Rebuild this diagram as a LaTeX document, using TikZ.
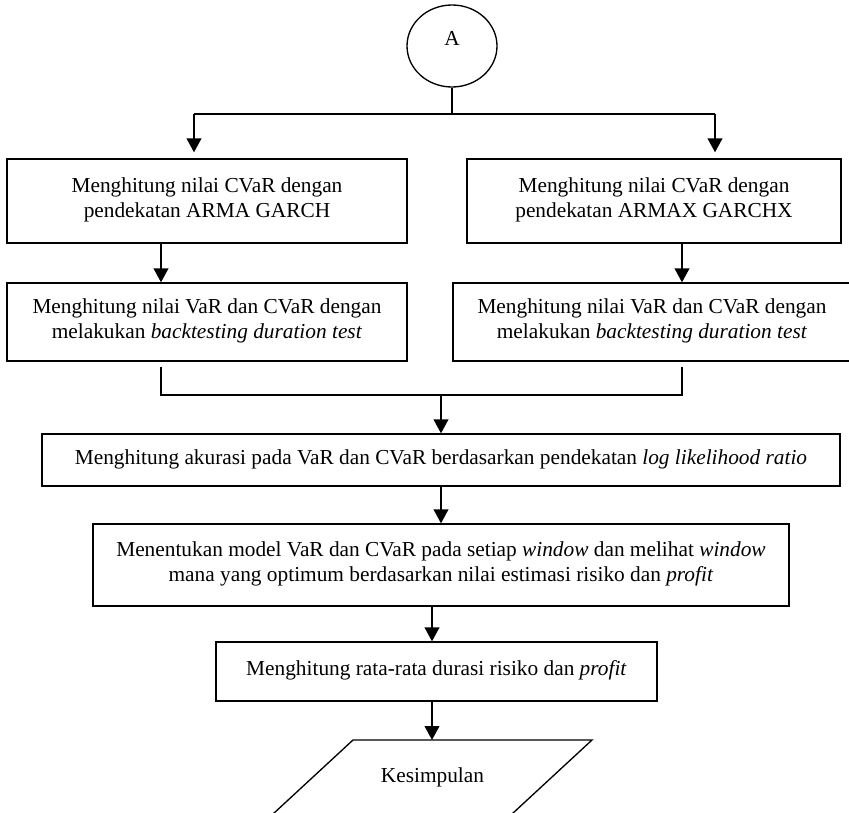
\documentclass[tikz,border=0pt]{standalone}
\usepackage{fontspec}
\setmainfont{Liberation Serif}
\usetikzlibrary{arrows.meta,shapes,positioning}

\begin{document}
\begin{tikzpicture}
[x=0.75pt, y=-0.75pt,
font=\fontsize{16}{18.4}\selectfont,
connector/.style={draw, ellipse, line width=1pt, text depth=12pt,
minimum width=67.5pt, minimum height=61.5pt, inner sep=0pt},
block/.style ={draw, rectangle, line width=1pt, align=center, inner sep=0pt},
line/.style ={draw, line width=1pt},
arrow/.style ={draw, line width=1.5pt, -{Triangle[length=10.5pt,width=11pt]}}]
\clip (0,0) rectangle (849,813);
% nodes
\node [connector]                                      (a)      at (452,46)    {A};
\node [block, minimum width=300pt, minimum height=63pt]   (cvar)   at (207,201)   {Menghitung nilai CVaR dengan\\pendekatan ARMA GARCH\\[-13.5pt]\mbox{}};
\node [block, minimum width=280.5pt, minimum height=63pt] (cvarx)  at (654,201)   {Menghitung nilai CVaR dengan\\pendekatan ARMAX GARCHX\\[-13.5pt]\mbox{}};
\node [block, minimum width=300pt, minimum height=58.5pt] (bt)     at (207,322)   {Menghitung nilai VaR dan CVaR dengan\\melakukan \textit{backtesting duration test}\\[-13.5pt]\mbox{}};
\node [block, minimum width=298.5pt, minimum height=58.5pt] (btx)  at (652,322)   {Menghitung nilai VaR dan CVaR dengan\\melakukan \textit{backtesting duration test}\\[-13.5pt]\mbox{}};
\node [block, minimum width=598.5pt, minimum height=39pt] (llr)    at (441,460)   {Menghitung akurasi pada VaR dan CVaR berdasarkan pendekatan \textit{log likelihood ratio}\\[-13.5pt]\mbox{}};
\node [block, minimum width=522pt, minimum height=61.5pt] (win)    at (441,565)   {Menentukan model VaR dan CVaR pada setiap \textit{window} dan melihat \textit{window}\\mana yang optimum berdasarkan nilai estimasi risiko dan \textit{profit}\\[-13.5pt]\mbox{}};
\node [block, minimum width=330.75pt, minimum height=44.25pt] (avg) at (436.5,671.5) {Menghitung rata-rata durasi risiko dan \textit{profit}\\[-13.5pt]\mbox{}};
\node                                                   (kes)    at (432.5,777) {Kesimpulan};
% data box round the last node
\draw [line] (353,740) -- (592,740) -- (512,814) -- (273,814) -- cycle;

% junctions
\coordinate (ja) at (452,114);
\coordinate (jl) at (194,114);
\coordinate (jr) at (715,114);
\coordinate (xl) at (161,0);
\coordinate (xr) at (682,0);
\coordinate (xm) at (432,0);
\coordinate (jb) at (441,395);
\coordinate (kt) at (432,740);

\draw [line] (a) -- (ja);
\draw [line] (jl) -- (jr);
\draw [arrow, shorten >=4.5pt] (jl) -- (jl |- cvar.north);
\draw [arrow, shorten >=4.5pt] (jr) -- (jr |- cvarx.north);
\draw [arrow] (cvar.south -| xl) -- (bt.north -| xl);
\draw [arrow] (cvarx.south -| xr) -- (btx.north -| xr);

\draw [line] ([yshift=-3.75pt]bt.south -| xl) -- (xl |- jb) -- (xr |- jb) -- ([yshift=-3.75pt]btx.south -| xr);
\draw [arrow] (jb) -- (jb |- llr.north);
\draw [arrow] (llr) -- (win);
\draw [arrow] (win.south -| xm) -- (avg.north -| xm);
\draw [arrow] (avg.south -| xm) -- (kt);

\end{tikzpicture}
\end{document}
